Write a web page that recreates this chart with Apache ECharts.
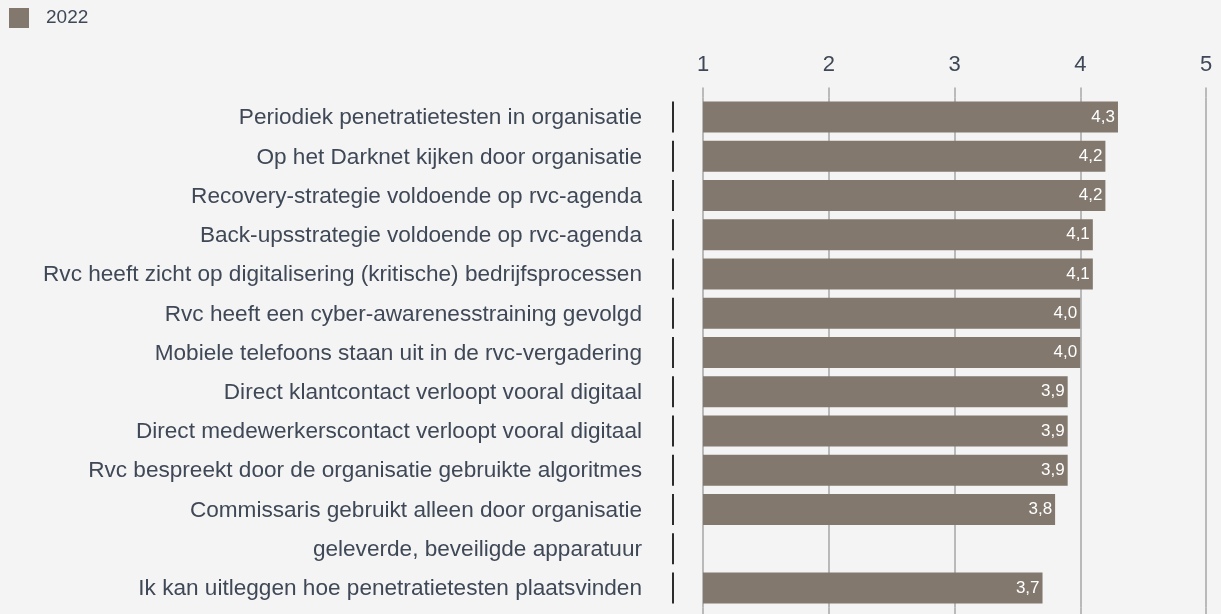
<!DOCTYPE html>
<html>
<head>
<meta charset="utf-8">
<script src="https://cdn.jsdelivr.net/npm/echarts@6/dist/echarts.min.js"></script>
<style>
    html, body { margin: 0; padding: 0; background: #f4f4f4; }
    #chart { width: 1221px; height: 614px; }
</style>
</head>
<body>
<div id="chart"></div>
<script>
    // categories top to bottom (the long label is split over two rows, like the source)
    var categories = [
        'Periodiek penetratietesten in organisatie',
        'Op het Darknet kijken door organisatie',
        'Recovery-strategie voldoende op rvc-agenda',
        'Back-upsstrategie voldoende op rvc-agenda',
        'Rvc heeft zicht op digitalisering (kritische) bedrijfsprocessen',
        'Rvc heeft een cyber-awarenesstraining gevolgd',
        'Mobiele telefoons staan uit in de rvc-vergadering',
        'Direct klantcontact verloopt vooral digitaal',
        'Direct medewerkerscontact verloopt vooral digitaal',
        'Rvc bespreekt door de organisatie gebruikte algoritmes',
        'Commissaris gebruikt alleen door organisatie',
        'geleverde, beveiligde apparatuur',
        'Ik kan uitleggen hoe penetratietesten plaatsvinden'
    ];
    var values2022 = [4.3, 4.2, 4.2, 4.1, 4.1, 4.0, 4.0, 3.9, 3.9, 3.9, 3.8, null, 3.7];
    var xTicks = [1, 2, 3, 4, 5];

    var textColor = '#3f4856';
    var barColor = '#82786e';
    var gridColor = '#a6a6a6';

    var chart = echarts.init(document.getElementById('chart'));
    chart.setOption({
        backgroundColor: '#f4f4f4',
        textStyle: { fontFamily: 'Liberation Sans' },
        legend: {
            left: 9,
            top: 8,
            padding: 0,
            itemWidth: 20,
            itemHeight: 20,
            itemGap: 10,
            icon: 'rect',
            textStyle: { color: textColor, fontSize: 19, padding: [0, 0, 0, 12] },
            data: ['2022']
        },
        grid: {
            left: 703,
            right: 15,
            top: 97.5,
            bottom: 6.5
        },
        xAxis: [
            {
                type: 'value',
                position: 'top',
                min: xTicks[0],
                max: xTicks[xTicks.length - 1],
                interval: 1,
                axisLine: { show: false },
                axisTick: { show: true, length: 10, lineStyle: { color: gridColor, width: 1.5 } },
                axisLabel: { color: textColor, fontSize: 22, margin: 22 },
                splitLine: { show: true, lineStyle: { color: gridColor, width: 1.5 } }
            },
            {
                type: 'value',
                position: 'bottom',
                min: xTicks[0],
                max: xTicks[xTicks.length - 1],
                interval: 1,
                axisLine: { show: false },
                axisTick: { show: true, length: 10, lineStyle: { color: gridColor, width: 1.5 } },
                axisLabel: { show: false },
                splitLine: { show: false }
            }
        ],
        yAxis: {
            type: 'category',
            inverse: true,
            data: categories,
            axisLine: { show: false },
            axisTick: { show: false },
            axisLabel: {
                margin: 29,
                formatter: function (v) {
                    return '{t|' + v + '}{g|}{b|}';
                },
                rich: {
                    t: { color: textColor, fontSize: 22.6, fontFamily: 'Liberation Sans', padding: [2, 0, 0, 0] },
                    g: { width: 30 },
                    b: { width: 2, height: 31, backgroundColor: '#2b2b2b' }
                }
            }
        },
        series: [
            {
                name: '2022',
                type: 'bar',
                data: values2022,
                barCategoryGap: '21%',
                itemStyle: { color: barColor },
                label: {
                    show: true,
                    position: 'insideRight',
                    distance: 3,
                    color: '#ffffff',
                    fontSize: 17,
                    formatter: function (p) {
                        return p.value == null ? '' : p.value.toFixed(1).replace('.', ',');
                    }
                }
            }
        ]
    });
</script>
</body>
</html>
